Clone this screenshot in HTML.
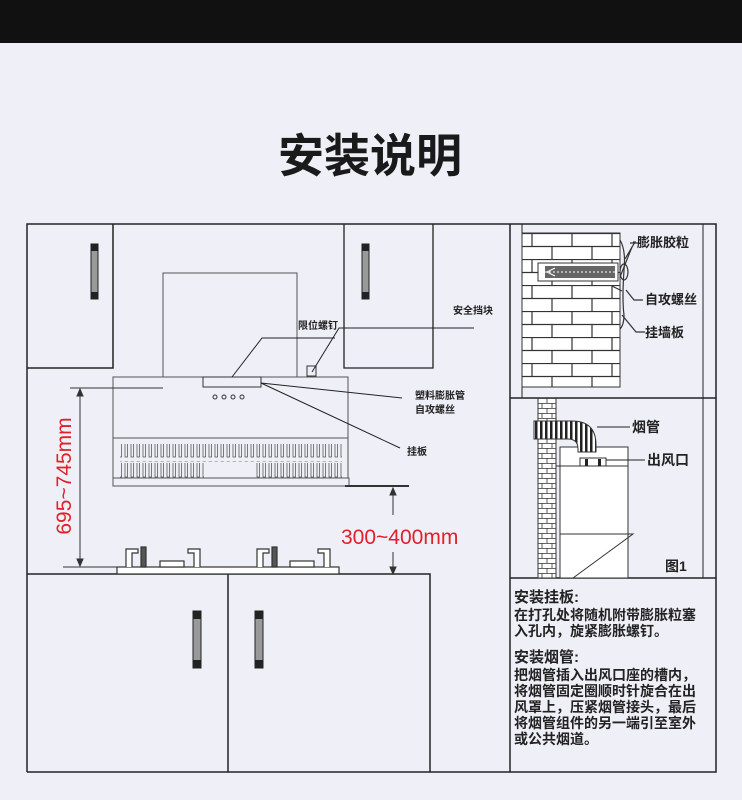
<!DOCTYPE html>
<html><head><meta charset="utf-8"><style>
html,body{margin:0;padding:0;width:742px;height:800px;background:#eff0f7;overflow:hidden}
svg{display:block}
</style></head><body>
<svg width="742" height="800" viewBox="0 0 742 800" xmlns="http://www.w3.org/2000/svg" font-family="'Liberation Sans','Noto Sans CJK SC',sans-serif">
<defs>
<pattern id="gr" x="118" y="0" width="6" height="20" patternUnits="userSpaceOnUse">
<rect x="1" y="2" width="2.5" height="15" fill="none" stroke="#444" stroke-width="0.7"/>
</pattern>
<pattern id="brick" x="522" y="233" width="40" height="26" patternUnits="userSpaceOnUse">
<rect width="40" height="26" fill="#fff"/>
<path d="M0 0.5H40M0 13.5H40M10 0V13M30 13V26" stroke="#333" stroke-width="1.2"/>
</pattern>
<pattern id="brick2" x="538" y="398" width="18" height="10" patternUnits="userSpaceOnUse">
<rect width="18" height="10" fill="#fff"/>
<path d="M0 0.5H18M0 5.5H18M9 0V5M4 5V10M14 5V10" stroke="#333" stroke-width="0.8"/>
</pattern>
<pattern id="duct" x="0" y="0" width="5" height="5" patternUnits="userSpaceOnUse">
<rect width="5" height="5" fill="#fff"/><rect width="2.5" height="5" fill="#222"/>
</pattern>
</defs>
<rect x="0" y="0" width="742" height="43" fill="#111"/>
<text x="370" y="172" text-anchor="middle" font-size="46" font-weight="bold" fill="#1a1a1a">安装说明</text>

<g fill="none" stroke="#222" stroke-width="1.5">
<path d="M27 772V224H716V772H27"/>
<line x1="510" y1="224" x2="510" y2="772"/>
<line x1="510" y1="398" x2="716" y2="398"/>
<line x1="510" y1="578" x2="716" y2="578"/>
<line x1="703" y1="224" x2="703" y2="578" stroke-width="1"/>
<line x1="522" y1="224" x2="522" y2="398" stroke-width="1"/>
<path d="M27 368H113V224"/>
<path d="M344 224V368H433V224" stroke-width="1.3"/>
<path d="M27 574H430V772M228 574V772" />
</g>
<g>
<rect x="91" y="244" width="7" height="55" fill="#999" stroke="#222"/><rect x="91" y="244" width="7" height="7" fill="#222"/><rect x="91" y="292" width="7" height="7" fill="#222"/>
<rect x="362" y="244" width="7" height="55" fill="#999" stroke="#222"/><rect x="362" y="244" width="7" height="7" fill="#222"/><rect x="362" y="292" width="7" height="7" fill="#222"/>
<rect x="193" y="611" width="8" height="57" fill="#999" stroke="#222"/><rect x="193" y="611" width="8" height="8" fill="#222"/><rect x="193" y="660" width="8" height="8" fill="#222"/>
<rect x="255" y="611" width="8" height="57" fill="#999" stroke="#222"/><rect x="255" y="611" width="8" height="8" fill="#222"/><rect x="255" y="660" width="8" height="8" fill="#222"/>
</g>

<g fill="none" stroke="#555" stroke-width="1">
<path d="M163 377V273H297V377"/>
<rect x="113" y="377" width="235" height="101"/>
<line x1="113" y1="438" x2="348" y2="438"/>
<rect x="113" y="478" width="236" height="8"/>
<rect x="203" y="377" width="58" height="10" stroke="#333"/>
<rect x="307" y="366" width="9" height="10" stroke="#333"/>
</g>
<rect x="120" y="444" width="222" height="18" fill="url(#gr)"/>
<rect x="120" y="463" width="84" height="15" fill="url(#gr)"/>
<rect x="255" y="463" width="87" height="15" fill="url(#gr)"/>
<g fill="none" stroke="#333" stroke-width="1">
<circle cx="215" cy="397" r="2"/><circle cx="224" cy="397" r="2"/><circle cx="233" cy="397" r="2"/><circle cx="242" cy="397" r="2"/>
</g>
<g stroke="#222" stroke-width="1" fill="none">
<path d="M232 377L262 338H335"/>
<path d="M312 372L339 328H474"/>
<path d="M261 383L402 398"/>
<path d="M261 383L400 448"/>
</g>
<g font-size="10" font-weight="bold" fill="#222">
<text x="298" y="329">限位螺钉</text>
<text x="453" y="314">安全挡块</text>
<text x="415" y="399">塑料膨胀管</text>
<text x="415" y="413">自攻螺丝</text>
<text x="407" y="455">挂板</text>
</g>

<g stroke="#333" stroke-width="1" fill="#333">
<line x1="70" y1="388" x2="163" y2="388"/>
<line x1="63" y1="567" x2="118" y2="567"/>
<line x1="80" y1="389" x2="80" y2="566"/>
<path d="M80 389l-3 7h6z"/><path d="M80 566l-3-7h6z"/>
<line x1="345" y1="486" x2="409" y2="486" stroke-width="2"/>
<line x1="393" y1="488" x2="393" y2="515"/>
<line x1="393" y1="552" x2="393" y2="573"/>
<path d="M393 488l-3 7h6z"/><path d="M393 574l-3-7h6z"/>
</g>
<text transform="translate(71,476) rotate(-90)" text-anchor="middle" font-size="21" fill="#e0202a">695~745mm</text>
<text x="341" y="544" font-size="21" fill="#e0202a">300~400mm</text>

<g fill="#fff" stroke="#333" stroke-width="1.2">
<rect x="117" y="567" width="222" height="7"/>
<path d="M126 567V549h12v4h-6v14"/><rect x="160" y="561" width="24" height="6"/>
<rect x="141" y="547" width="5" height="20" fill="#555"/><path d="M200 567V549h-12v4h6v14"/>
<path d="M257 567V549h12v4h-6v14"/><rect x="290" y="561" width="24" height="6"/>
<rect x="272" y="547" width="5" height="20" fill="#555"/><path d="M330 567V549h-12v4h6v14"/>
</g>

<rect x="522" y="233" width="98" height="154" fill="url(#brick)" stroke="#333"/>
<rect x="538" y="263" width="80" height="18" fill="#fff" stroke="#333"/>
<rect x="545" y="266" width="70" height="12" fill="#666"/>
<path d="M545 272h70" stroke="#fff" stroke-width="1" stroke-dasharray="2 2"/>
<path d="M555 268l-8 4 8 4" fill="none" stroke="#fff"/>
<g fill="none" stroke="#333" stroke-width="1.2">
<path d="M620 240q6 10 4 30q-2 30 0 45q0 10-4 14"/>
<path d="M620 277l12-30M622 291l-10 -5"/>
<ellipse cx="624" cy="272" rx="4" ry="8"/>
<path d="M625 259l10-17h-2 M630 243h8"/>
<path d="M626 290l8 10h9"/>
<path d="M622 315l14 17h9"/>
</g>
<g font-size="13" font-weight="bold" fill="#222">
<text x="637" y="247">膨胀胶粒</text>
<text x="645" y="304">自攻螺丝</text>
<text x="645" y="337">挂墙板</text>
</g>

<rect x="538" y="398" width="18" height="180" fill="url(#brick2)" stroke="#333"/>
<g fill="none" stroke="#333" stroke-width="1">
<rect x="560" y="447" width="68" height="131" fill="#fff"/>
<path d="M560 534H633L573 578"/>
<line x1="556" y1="466" x2="628" y2="466"/>
</g>
<path d="M534 421h38q24 0 24 24v7h-18v-3q0-10-10-10h-34z" fill="url(#duct)" stroke="#333"/>
<rect x="580" y="458" width="26" height="8" fill="#fff" stroke="#333"/>
<rect x="585" y="459" width="3" height="7" fill="#222"/><rect x="598" y="459" width="3" height="7" fill="#222"/>
<g stroke="#222"><line x1="597" y1="427" x2="630" y2="427"/><line x1="606" y1="460" x2="645" y2="460"/></g>
<g font-size="14" font-weight="bold" fill="#222">
<text x="632" y="432">烟管</text>
<text x="647" y="465">出风口</text>
<text x="665" y="571">图1</text>
</g>

<g font-size="14" fill="#222" font-weight="bold">
<text x="514" y="602" font-size="15">安装挂板:</text>
<text x="514" y="620">在打孔处将随机附带膨胀粒塞</text>
<text x="514" y="636">入孔内，旋紧膨胀螺钉。</text>
<text x="514" y="662" font-size="15">安装烟管:</text>
<text x="514" y="680">把烟管插入出风口座的槽内，</text>
<text x="514" y="696">将烟管固定圈顺时针旋合在出</text>
<text x="514" y="712">风罩上，压紧烟管接头，最后</text>
<text x="514" y="728">将烟管组件的另一端引至室外</text>
<text x="514" y="744">或公共烟道。</text>
</g>
</svg>
</body></html>
